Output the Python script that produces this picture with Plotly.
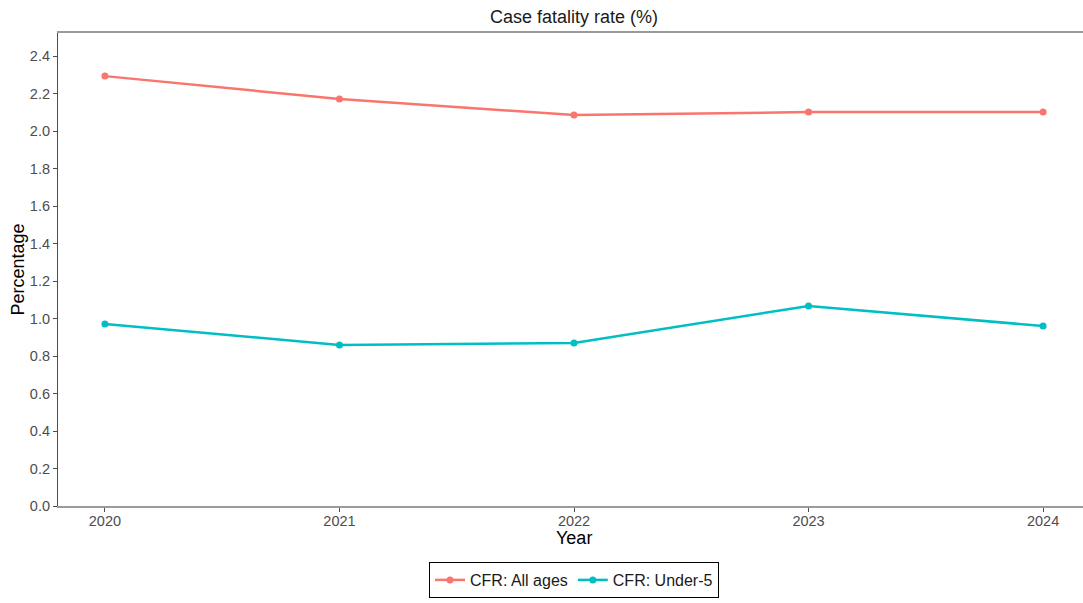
import plotly.graph_objects as go

years = [2020, 2021, 2022, 2023, 2024]
cfr_all = [2.293, 2.171, 2.085, 2.101, 2.101]
cfr_u5 = [0.971, 0.859, 0.869, 1.067, 0.960]
y_ticks = [0.0, 0.2, 0.4, 0.6, 0.8, 1.0, 1.2, 1.4, 1.6, 1.8, 2.0, 2.2, 2.4]

font = "Liberation Sans, Arial, sans-serif"

fig = go.Figure()
fig.add_trace(go.Scatter(x=years, y=cfr_all, mode="lines+markers", name="CFR: All ages",
                         line=dict(color="#F8766D", width=2.5), marker=dict(size=7, color="#F8766D")))
fig.add_trace(go.Scatter(x=years, y=cfr_u5, mode="lines+markers", name="CFR: Under-5",
                         line=dict(color="#00BFC4", width=2.5), marker=dict(size=7, color="#00BFC4")))

W = 1090
fig.update_layout(
    width=W, height=603,
    margin=dict(l=58, r=0, t=33, b=97),
    plot_bgcolor="white", paper_bgcolor="white",
    font=dict(family=font, color="#4d4d4d"),
    title=dict(text="Case fatality rate (%)", x=574 / W, xanchor="center", y=1 - 17 / 603, yanchor="middle",
               font=dict(size=18, color="#1a1a1a")),
    showlegend=True,
    legend=dict(orientation="h", x=0.5, xanchor="center", y=-56 / 473, yanchor="top",
                bordercolor="black", borderwidth=1, font=dict(size=16, color="#1a1a1a"),
                itemwidth=30),
    xaxis=dict(range=[2019.8, 2024.2], tickvals=years, ticktext=[str(y) for y in years],
               showgrid=False, zeroline=False, showline=True, linecolor="#9a9a9a", linewidth=1.5,
               mirror=True, ticks="outside", ticklen=4, tickcolor="#4d4d4d",
               ticklabelstandoff=-3,
               tickfont=dict(size=14.5, color="#4d4d4d")),
    yaxis=dict(range=[0, 2.523], tickvals=y_ticks, ticktext=[f"{v:.1f}" for v in y_ticks],
               showgrid=False, zeroline=False, showline=True, linecolor="#4d4d4d", linewidth=1.2,
               ticks="outside", ticklen=4, tickcolor="#4d4d4d",
               tickfont=dict(size=14.5, color="#4d4d4d"),
               title=dict(text="Percentage", font=dict(size=18, color="#000000"), standoff=0)),
    annotations=[dict(text="Year", xref="paper", yref="paper", x=0.5, y=-32 / 473,
                      xanchor="center", yanchor="middle", showarrow=False,
                      font=dict(size=18, color="#000000"))],
)

fig.write_html("out.html", config={"displayModeBar": False},
               post_script="document.body.style.margin='0';document.body.style.overflow='hidden';")
